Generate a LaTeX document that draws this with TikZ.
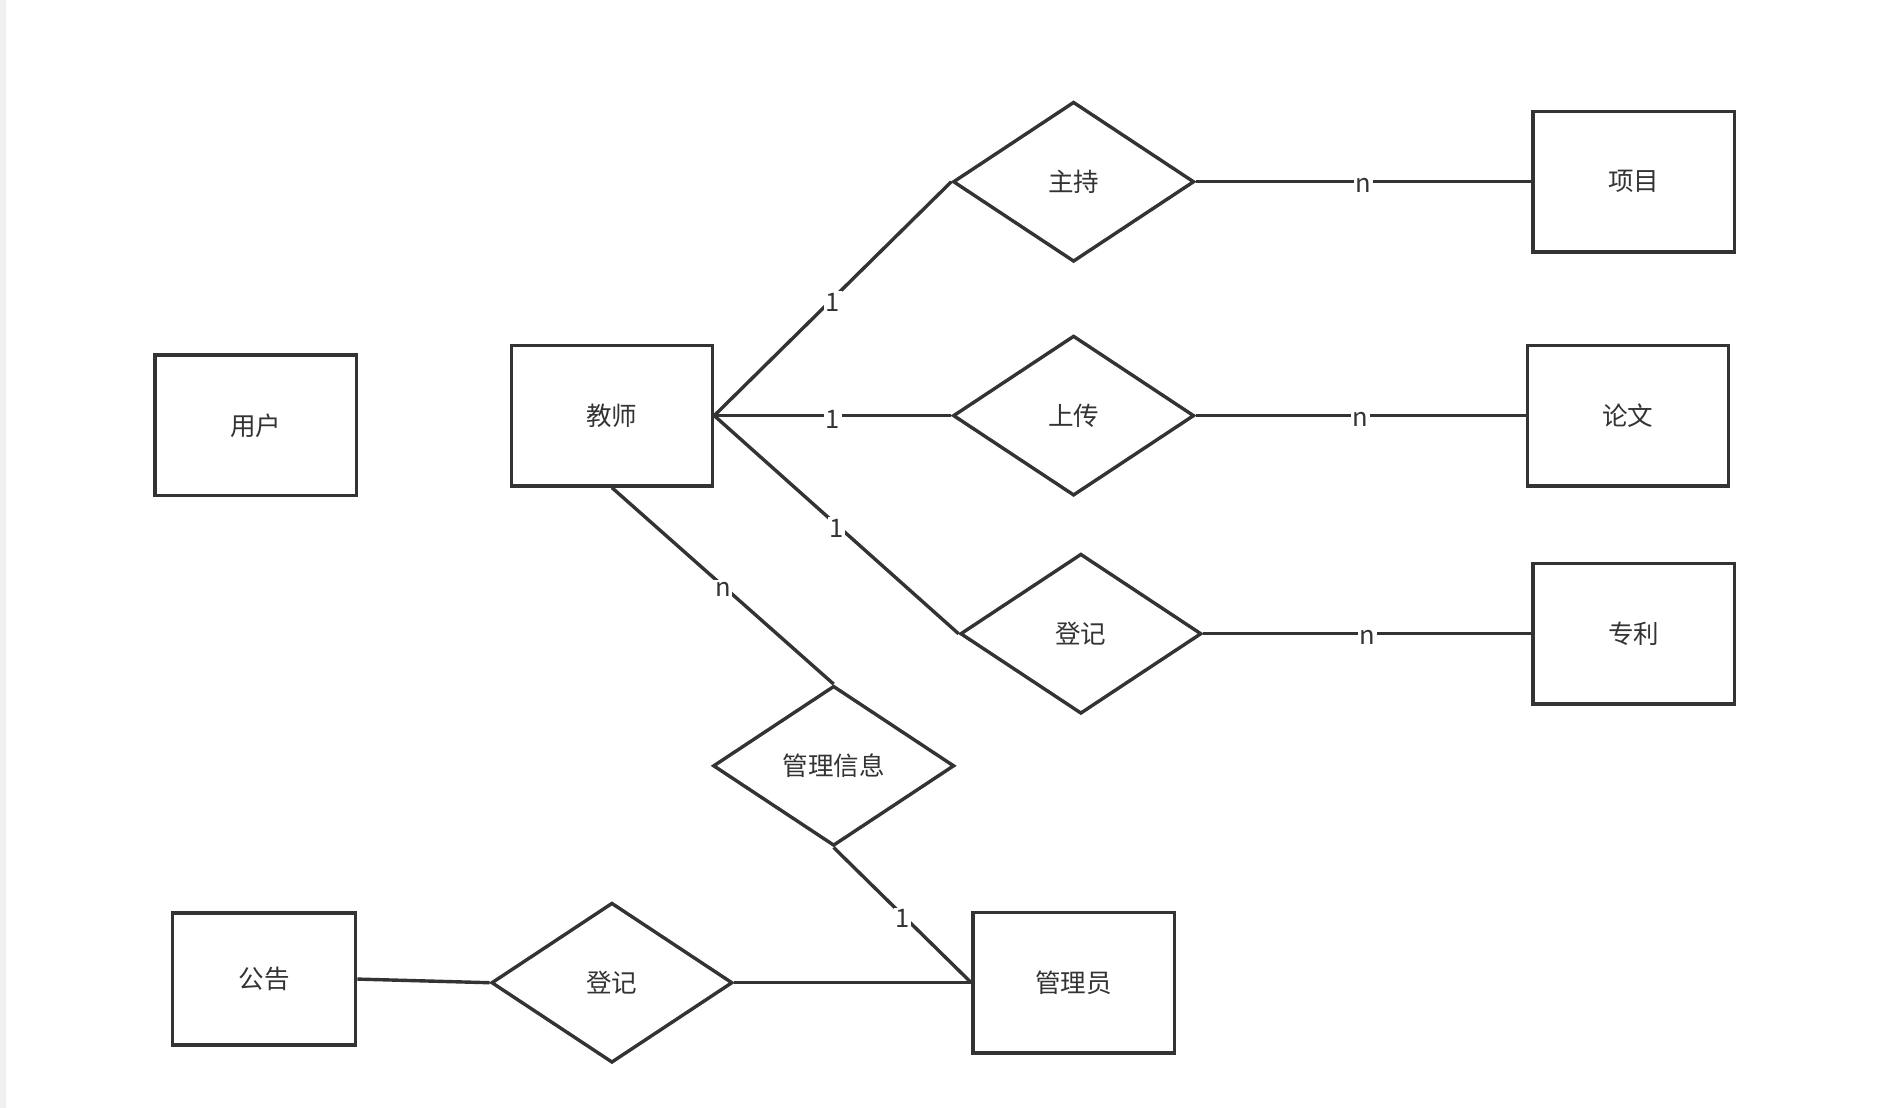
\documentclass[tikz,border=0pt]{standalone}
\usepackage{fontspec}
\setmainfont{Noto Sans CJK SC}
\usepackage{xcolor}
\usetikzlibrary{positioning,shapes.geometric}

\definecolor{ink}{HTML}{333333}

\begin{document}
\begin{tikzpicture}[
    x=0.025cm, y=-0.025cm,
    entity/.style={
        draw=ink,
        line width=2pt,
        text=ink,
        font=\fontsize{15}{18}\selectfont,
        minimum width=4.15cm,
        minimum height=2.9cm,
        inner sep=0pt
    },
    relation/.style={
        diamond,
        draw=ink,
        line width=2pt,
        text=ink,
        font=\fontsize{15}{18}\selectfont,
        minimum width=4.975cm,
        minimum height=3.3cm,
        inner sep=0pt
    },
    link/.style={draw=ink, line width=2pt},
    card/.style={fill=white, text=ink, inner sep=1pt, yshift=-0.07cm, font=\fontsize{15}{18}\selectfont}
]
\useasboundingbox (0,0) rectangle (1568,914);
\fill[black!6] (0,0) rectangle (5,914);

\node[entity] (user) at (211,351) {用户};
\node[entity] (teacher) at (505,343) {教师};

\node[relation] (host) at (886,150) {主持};
\node[relation] (upload) at (886,343) {上传};
\node[relation] (regpat) at (892,523) {登记};
\node[entity, right=6.92cm of host] (project) {项目};
\node[entity, right=6.8cm of upload] (paper) {论文};
\node[entity, right=6.77cm of regpat] (patent) {专利};

\node[relation] (manage) at (688,632) {管理信息};
\node[entity] (admin) at (886,811) {管理员};
\node[relation] (regnote) at (505,811) {登记};
\node[entity, minimum width=3.775cm, minimum height=2.725cm] (notice) at (218,808) {公告};

\draw[link] (teacher.east) -- node[card] {1} (host.west);
\draw[link] (teacher.east) -- node[card] {1} (upload.west);
\draw[link] (teacher.east) -- node[card] {1} (regpat.west);
\draw[link] (host.east) -- node[card] {n} (project.west);
\draw[link] (upload.east) -- node[card] {n} (paper.west);
\draw[link] (regpat.east) -- node[card] {n} (patent.west);
\draw[link] (teacher.south) -- node[card] {n} (manage.north);
\draw[link] (manage.south) -- node[card] {1} (admin.west);
\draw[link] (regnote.east) -- (admin.west);
\draw[link] (notice.east) -- (regnote.west);
\end{tikzpicture}
\end{document}
